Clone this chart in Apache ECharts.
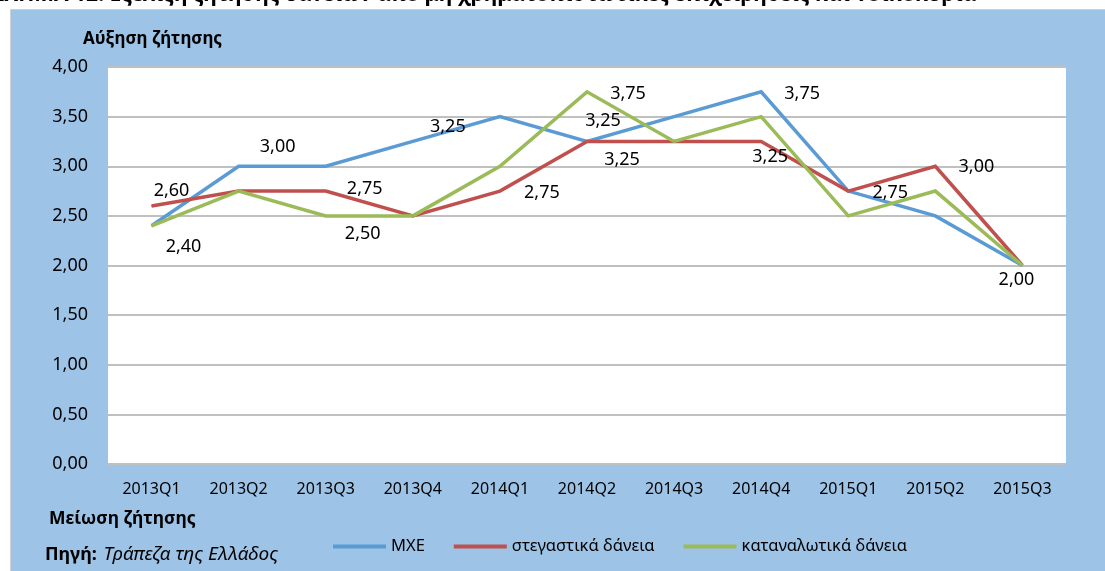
<!DOCTYPE html>
<html>
<head>
<meta charset="utf-8">
<script src="https://cdn.jsdelivr.net/npm/echarts@6/dist/echarts.min.js"></script>
<style>
	html, body { margin: 0; padding: 0; background: #fff; }
	#main { width: 1105px; height: 571px; }
</style>
</head>
<body>
<div id="main"></div>
<script>
// κατηγορίες (τρίμηνα)
const quarters = ['2013Q1', '2013Q2', '2013Q3', '2013Q4', '2014Q1', '2014Q2', '2014Q3', '2014Q4', '2015Q1', '2015Q2', '2015Q3'];

// σειρές
const mxe = [2.4, 3.0, 3.0, 3.25, 3.5, 3.25, 3.5, 3.75, 2.75, 2.5, 2.0];
const housing = [2.6, 2.75, 2.75, 2.5, 2.75, 3.25, 3.25, 3.25, 2.75, 3.0, 2.0];
const consumer = [2.4, 2.75, 2.5, 2.5, 3.0, 3.75, 3.25, 3.5, 2.5, 2.75, 2.0];

const seriesNames = ['ΜΧΕ', 'στεγαστικά δάνεια', 'καταναλωτικά δάνεια'];

// άξονας y
const yMin = 0;
const yMax = 4;
const yStep = 0.5;

// ποιες τιμές έχουν ετικέτα: [σειρά, σημείο, dx, dy]
const labelMarks = [
	[1, 0, 20, -15],
	[0, 0, 32, 21],
	[0, 1, 39, -19],
	[1, 2, 39, -2],
	[2, 2, 37, 18],
	[0, 3, 35, -15],
	[1, 4, 42, 2],
	[2, 5, 41, 2],
	[0, 5, 16, -21],
	[1, 5, 35, 18],
	[1, 7, 9, 15],
	[0, 7, 41, 2],
	[0, 8, 42, 2],
	[1, 9, 41, 1],
	[2, 10, -6, 14],
];

const FONT = '"Noto Sans", "DejaVu Sans", sans-serif';

function fmt(v) {
	return Number(v).toFixed(2).replace('.', ',');
}

function buildData(values, sIdx) {
	return values.map(function (v, i) {
		let m = labelMarks.find(function (x) {
			return x[0] === sIdx && x[1] === i;
		});
		if (!m) return v;
		return { value: v, label: { show: true, offset: [m[2], m[3]] } };
	});
}

function lineSeries(name, values, sIdx, color) {
	return {
		name: name,
		type: 'line',
		data: buildData(values, sIdx),
		symbol: 'circle',
		symbolSize: 1,
		showSymbol: true,
		color: color,
		itemStyle: { color: color },
		lineStyle: { width: 3.5, color: color, join: 'miter' },
		label: {
			show: false,
			position: 'inside',
			color: '#000',
			fontSize: 18,
			fontFamily: FONT,
			formatter: function (p) {
				return fmt(p.value);
			},
		},
		emphasis: { disabled: true },
	};
}

function Chart() {
	let myChart = echarts.init(document.getElementById('main'), null, { renderer: 'canvas' });

	let option = {
		animation: false,
		backgroundColor: '#fff',
		graphic: [
			{
				type: 'rect',
				shape: { x: 10.5, y: 9.5, width: 1100, height: 570 },
				style: { fill: '#9dc3e6', stroke: '#d0d0d0', lineWidth: 1 },
				z: -10,
			},
			{
				type: 'text',
				left: -8,
				top: -15,
				style: {
					text: 'ΣΧΗΜΑ 12: Εξέλιξη ζήτησης δανείων από μη χρηματοπιστωτικές επιχειρήσεις και νοικοκυριά',
					font: 'bold 21px ' + FONT,
					fill: '#000',
				},
				z: -9,
			},
			{
				type: 'text',
				left: 83,
				top: 31,
				style: { text: 'Αύξηση ζήτησης', font: 'bold 17px ' + FONT, fill: '#000' },
			},
			{
				type: 'text',
				left: 49,
				top: 510,
				style: { text: 'Μείωση ζήτησης', font: 'bold 17.5px ' + FONT, fill: '#000' },
			},
			{
				type: 'text',
				left: 45,
				top: 545,
				style: {
					text: '{b|Πηγή:}  {i|Τράπεζα της Ελλάδος}',
					rich: {
						b: { fontWeight: 'bold', fontSize: 18, fontFamily: FONT, fill: '#000' },
						i: { fontStyle: 'italic', fontSize: 19, fontFamily: FONT, fill: '#000' },
					},
				},
			},
		],
		grid: {
			left: 108,
			right: 39,
			top: 67,
			bottom: 107,
			show: true,
			backgroundColor: '#fff',
			borderWidth: 0,
		},
		legend: {
			left: 333,
			top: 538,
			padding: 0,
			icon: 'rect',
			itemWidth: 53,
			itemHeight: 4,
			itemGap: 29,
			textStyle: { fontSize: 16.5, fontFamily: FONT, color: '#000' },
			data: seriesNames,
		},
		xAxis: {
			type: 'category',
			data: quarters,
			boundaryGap: true,
			axisLine: { show: false },
			axisTick: { show: false },
			axisLabel: { fontSize: 16, fontFamily: FONT, color: '#000', margin: 17 },
		},
		yAxis: {
			type: 'value',
			min: yMin,
			max: yMax,
			interval: yStep,
			axisLine: { show: false },
			axisTick: { show: false },
			axisLabel: {
				fontSize: 18,
				fontFamily: FONT,
				color: '#000',
				margin: 20,
				formatter: fmt,
			},
			splitLine: { lineStyle: { color: '#c0c0c0', width: 2 } },
		},
		series: [
			lineSeries(seriesNames[0], mxe, 0, '#5b9bd5'),
			lineSeries(seriesNames[1], housing, 1, '#c0504d'),
			lineSeries(seriesNames[2], consumer, 2, '#9bbb59'),
		],
	};

	myChart.setOption(option);
}

Chart();
</script>
</body>
</html>
